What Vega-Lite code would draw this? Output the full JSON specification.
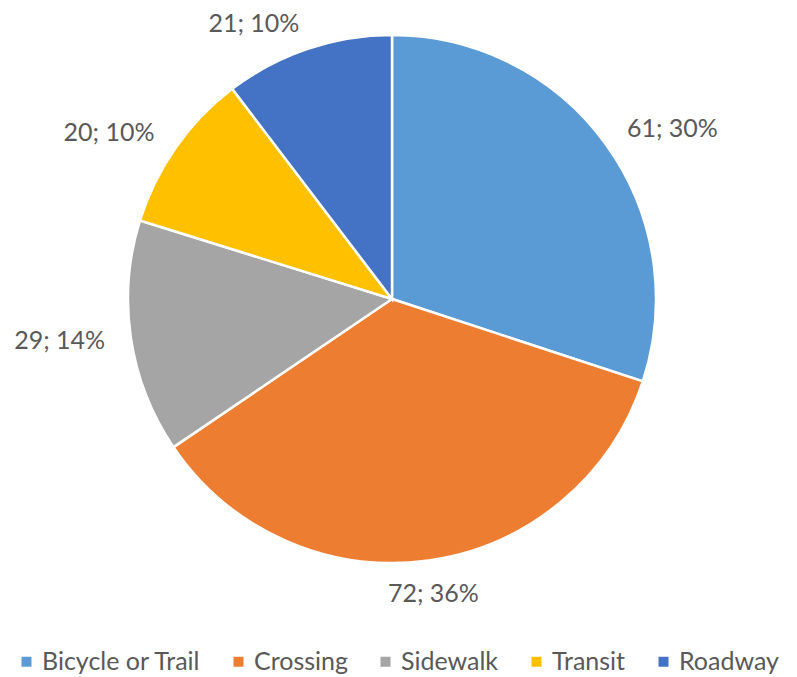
{
  "$schema": "https://vega.github.io/schema/vega-lite/v6.json",
  "width": 784,
  "height": 598,
  "padding": {"left": 0, "top": 0, "right": 13, "bottom": 79},
  "autosize": "none",
  "background": "white",
  "config": {"view": {"stroke": null}, "font": "Lato"},
  "data": {"values": [
    {"category": "Bicycle or Trail", "value": 61, "label": "61; 30%", "order": 1},
    {"category": "Crossing", "value": 72, "label": "72; 36%", "order": 2},
    {"category": "Sidewalk", "value": 29, "label": "29; 14%", "order": 3},
    {"category": "Transit", "value": 20, "label": "20; 10%", "order": 4},
    {"category": "Roadway", "value": 21, "label": "21; 10%", "order": 5}
  ]},
  "encoding": {
    "theta": {"field": "value", "type": "quantitative", "stack": true},
    "order": {"field": "order", "type": "quantitative"}
  },
  "layer": [
    {"mark": {"type": "arc", "outerRadius": 264, "stroke": "white", "strokeWidth": 2.5},
     "encoding": {
      "color": {
        "field": "category", "type": "nominal",
        "sort": ["Bicycle or Trail", "Crossing", "Sidewalk", "Transit", "Roadway"],
        "scale": {"domain": ["Bicycle or Trail", "Crossing", "Sidewalk", "Transit", "Roadway"],
                  "range": ["#5B9BD5", "#ED7D31", "#A5A5A5", "#FFC000", "#4472C4"]},
        "legend": {
          "title": null, "orient": "none", "direction": "horizontal",
          "legendX": 14, "legendY": 649,
          "symbolType": "square", "symbolSize": 100, "symbolStrokeWidth": 0,
          "labelFontSize": 25, "labelColor": "#595959", "labelFont": "Lato",
          "columnPadding": 25, "labelOffset": 3
        }
      }
     }},
    {"mark": {"type": "text", "radius": 290, "fontSize": 25, "fill": "#595959", "font": "Lato", "align": "left", "baseline": "middle"},
     "encoding": {"text": {"condition": {"test": "datum.order == 1", "field": "label"}, "value": ""}}},
    {"mark": {"type": "text", "radius": 298, "fontSize": 25, "fill": "#595959", "font": "Lato", "align": "center", "baseline": "middle"},
     "encoding": {"text": {"condition": {"test": "datum.order == 2", "field": "label"}, "value": ""}}},
    {"mark": {"type": "text", "radius": 290, "fontSize": 25, "fill": "#595959", "font": "Lato", "align": "right", "baseline": "middle"},
     "encoding": {"text": {"condition": {"test": "datum.order >= 3", "field": "label"}, "value": ""}}}
  ]
}
